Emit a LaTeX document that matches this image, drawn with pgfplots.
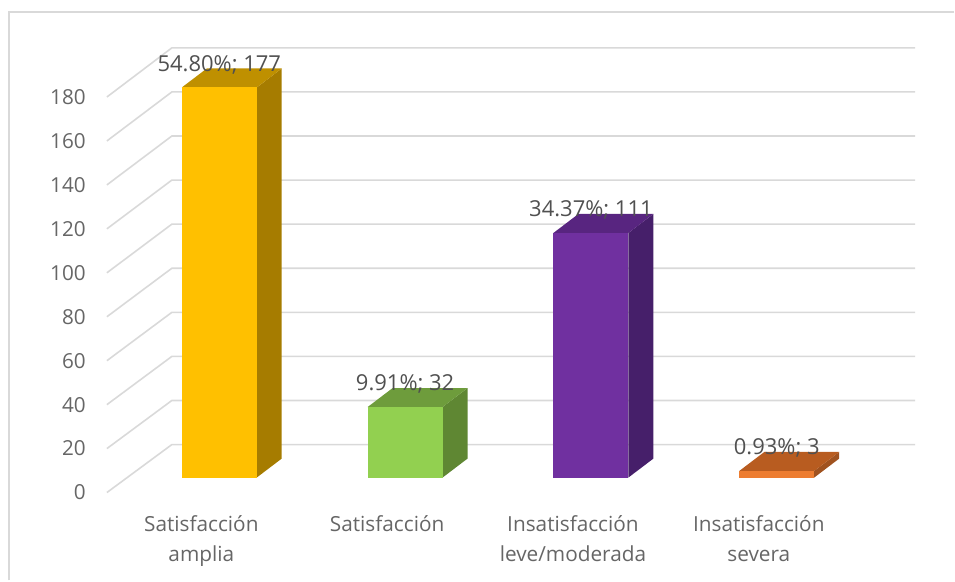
\documentclass[border=0pt]{standalone}
\usepackage{fontspec}
\setmainfont{Open Sans}
\usepackage{pgfplots}
\pgfplotsset{compat=1.18}
\definecolor{gridc}{HTML}{D9D9D9}
\definecolor{ticktxt}{HTML}{666666}
\definecolor{lbl}{HTML}{505050}
\pgfplotsset{dl/.style={draw=none, mark=none,
  every node near coord/.style={anchor=center, yshift=23pt, inner sep=0pt, text=lbl, font=\fontsize{22}{26}\selectfont}}}
\begin{document}
\begin{tikzpicture}
\begin{axis}[
  scale only axis, width=955pt, height=581pt,
  xmin=0, xmax=955, ymin=-46.69, ymax=216.68,
  axis line style={draw=none},
  tick style={draw=none},
  clip=false,
  xtick={201.5,387.5,573.5,759.5},
  xticklabels={{Satisfacción\\amplia},{Satisfacción},{Insatisfacción\\leve/moderada},{Insatisfacción\\severa}},
  xticklabel style={align=center, anchor=north, yshift=68.5pt, font=\fontsize{20.8}{30}\selectfont, text=ticktxt},
  ytick={-6.8,13.14,33.08,53.02,72.96,92.9,112.84,132.78,152.72,172.66},
  yticklabels={0,20,40,60,80,100,120,140,160,180},
  yticklabel style={anchor=east, xshift=86pt, inner sep=0pt, font=\fontsize{20.7}{25}\selectfont, text=ticktxt},
]
% outer frame
\addplot[gridc, line width=1.8pt, mark=none] coordinates {(9,-46.69)(9,211.2)(955,211.2)};
% gridlines: front edge, back edge, right end
\addplot[gridc, line width=1.6pt, mark=none] coordinates {(107,-6.8)(172,14.96)(916,14.96)};
\addplot[gridc, line width=1.6pt, mark=none] coordinates {(107,13.14)(172,34.96)(916,34.96)};
\addplot[gridc, line width=1.6pt, mark=none] coordinates {(107,33.08)(172,54.96)(916,54.96)};
\addplot[gridc, line width=1.6pt, mark=none] coordinates {(107,53.02)(172,74.96)(916,74.96)};
\addplot[gridc, line width=1.6pt, mark=none] coordinates {(107,72.96)(172,94.96)(916,94.96)};
\addplot[gridc, line width=1.6pt, mark=none] coordinates {(107,92.9)(172,114.96)(916,114.96)};
\addplot[gridc, line width=1.6pt, mark=none] coordinates {(107,112.84)(172,134.96)(916,134.96)};
\addplot[gridc, line width=1.6pt, mark=none] coordinates {(107,132.78)(172,154.96)(916,154.96)};
\addplot[gridc, line width=1.6pt, mark=none] coordinates {(107,152.72)(172,174.96)(916,174.96)};
\addplot[gridc, line width=1.6pt, mark=none] coordinates {(107,172.66)(172,194.96)(916,194.96)};
% bar 1
\addplot[fill={rgb,255:red,166;green,124;blue,0}, draw=none, mark=none] coordinates {(257,0)(282,8.61)(282,185.61)(257,177)} --cycle;
\addplot[fill={rgb,255:red,191;green,144;blue,0}, draw=none, mark=none] coordinates {(182,177)(207,185.61)(282,185.61)(257,177)} --cycle;
\addplot[fill={rgb,255:red,255;green,192;blue,0}, draw=none, mark=none] coordinates {(182,0)(257,0)(257,177)(182,177)} --cycle;
% bar 2
\addplot[fill={rgb,255:red,95;green,135;blue,51}, draw=none, mark=none] coordinates {(443,0)(468,8.61)(468,40.61)(443,32)} --cycle;
\addplot[fill={rgb,255:red,110;green,156;blue,60}, draw=none, mark=none] coordinates {(368,32)(393,40.61)(468,40.61)(443,32)} --cycle;
\addplot[fill={rgb,255:red,146;green,208;blue,80}, draw=none, mark=none] coordinates {(368,0)(443,0)(443,32)(368,32)} --cycle;
% bar 3
\addplot[fill={rgb,255:red,70;green,31;blue,106}, draw=none, mark=none] coordinates {(629,0)(654,8.61)(654,119.61)(629,111)} --cycle;
\addplot[fill={rgb,255:red,88;green,37;blue,128}, draw=none, mark=none] coordinates {(554,111)(579,119.61)(654,119.61)(629,111)} --cycle;
\addplot[fill={rgb,255:red,112;green,48;blue,160}, draw=none, mark=none] coordinates {(554,0)(629,0)(629,111)(554,111)} --cycle;
% bar 4
\addplot[fill={rgb,255:red,160;green,82;blue,31}, draw=none, mark=none] coordinates {(815,0)(840,8.61)(840,11.61)(815,3)} --cycle;
\addplot[fill={rgb,255:red,184;green,92;blue,32}, draw=none, mark=none] coordinates {(740,3)(765,11.61)(840,11.61)(815,3)} --cycle;
\addplot[fill={rgb,255:red,237;green,125;blue,49}, draw=none, mark=none] coordinates {(740,0)(815,0)(815,3)(740,3)} --cycle;
% data labels
\addplot[dl, nodes near coords={54.80\%; 177}] coordinates {(219.5,177)};
\addplot[dl, nodes near coords={9.91\%; 32}] coordinates {(405.5,32)};
\addplot[dl, nodes near coords={34.37\%; 111}] coordinates {(591.5,111)};
\addplot[dl, nodes near coords={0.93\%; 3}] coordinates {(777.5,3)};
\end{axis}
\end{tikzpicture}
\end{document}
